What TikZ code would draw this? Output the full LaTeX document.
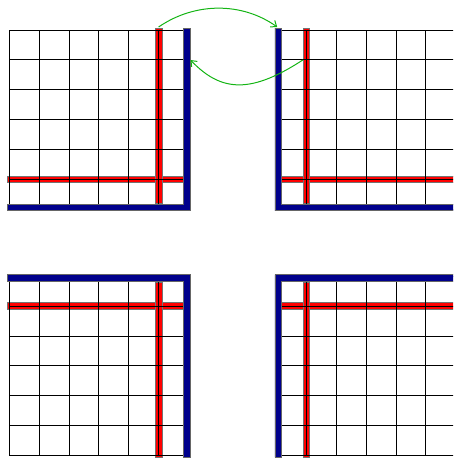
\documentclass[tikz,border=0pt]{standalone}
\usetikzlibrary{arrows.meta}
\definecolor{barblue}{RGB}{0,0,140}
\definecolor{barred}{RGB}{255,0,0}
\definecolor{arrowgreen}{RGB}{20,180,20}
\tikzset{
  gridline/.style={black, line width=0.8pt},
  redbar/.style={fill=barred, draw=black!55, line width=0.7pt},
  bluebar/.style={fill=barblue, draw=black!60, line width=0.7pt},
  swaparrow/.style={arrowgreen, line width=1pt, -{Straight Barb[length=5pt,width=8pt]}},
}
\newcommand\drawquad{%
  \path[redbar] (7.3,175.9) rectangle (183.4,182.6);
  \path[redbar] (155.2,28) rectangle (161.9,203.4);
  \foreach \i in {0,...,6}{
    \draw[gridline] ({9.3+\i*29.85},30) -- ({9.3+\i*29.85},209.1);
    \draw[gridline] (9.3,{30+\i*29.85}) -- (188.4,{30+\i*29.85});
  }
  \path[bluebar] (183.35,28) -- (190.05,28) -- (190.05,210.75) -- (7.3,210.75) -- (7.3,204.05) -- (183.35,204.05) -- cycle;
}
\begin{document}
\begin{tikzpicture}[x=1pt,y=-1pt]
  \useasboundingbox (0,0) rectangle (453,458);
  \clip (0,0) rectangle (453,458);
  \begin{scope}\drawquad\end{scope}
  \begin{scope}[shift={(465,0)},xscale=-1]\drawquad\end{scope}
  \begin{scope}[shift={(0,485.3)},yscale=-1]\drawquad\end{scope}
  \begin{scope}[shift={(465,485.3)},xscale=-1,yscale=-1]\drawquad\end{scope}
  \coordinate (a1s) at (158.6,27);
  \coordinate (a1e) at (277.2,27);
  \coordinate (a2s) at (302.8,60);
  \coordinate (a2e) at (190.5,60);
  \draw[swaparrow] (a1s) .. controls (195,2) and (242,2) .. (a1e);
  \draw[swaparrow] (a2s) .. controls (252,93) and (222,93) .. (a2e);
\end{tikzpicture}
\end{document}
